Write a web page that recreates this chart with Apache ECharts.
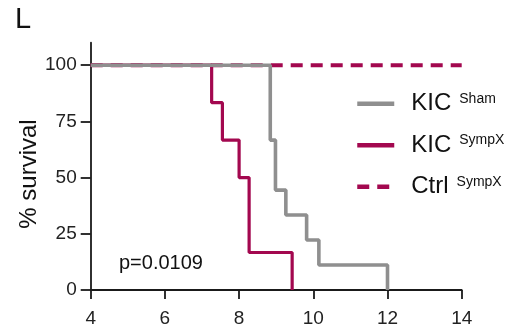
<!DOCTYPE html>
<html><head><meta charset="utf-8">
<script src="https://cdn.jsdelivr.net/npm/echarts@6/dist/echarts.min.js"></script>
<style>html,body{margin:0;padding:0;background:#fff}#c{width:513px;height:328px}</style>
</head><body><div id="c"></div>
<script>
// Kaplan-Meier survival data: [time (weeks), % survival]
const kicSham = [[4,100],[8.84,66.67],[8.98,44.44],[9.26,33.33],[9.82,22.22],[10.15,11.11],[12.0,0]];
const kicSympX = [[4,100],[7.26,83.33],[7.55,66.67],[8.0,50],[8.27,16.67],[9.43,0]];
const ctrlSympX = [[4,100],[14,100]];
const yTicks = [0,25,50,75,100];
const xMin = 4, xMax = 14, xInterval = 2;
const pText = 'p=0.0109';
const panelLabel = 'L';
const yTitle = '% survival';

const grey = '#8f8f8f', red = '#a3084f', axisCol = '#1a1a1a';
const chart = echarts.init(document.getElementById('c'));
const rich = {
  m:{fontFamily:'Liberation Sans',fontSize:24,color:'#111',lineHeight:24,padding:[0,0,0,12]},
  s:{fontFamily:'Liberation Sans',fontSize:14,color:'#111',lineHeight:14,verticalAlign:'top',padding:[0,0,0,8]}
};
chart.setOption({
  animation:false,
  grid:{left:90.7,right:51.3,top:42.7,bottom:38},
  xAxis:{type:'value',min:xMin,max:xMax,interval:xInterval,
    axisLine:{lineStyle:{color:axisCol,width:1.8}},
    axisTick:{length:9,lineStyle:{color:axisCol,width:1.8}},
    axisLabel:{fontFamily:'Liberation Sans',fontSize:19,color:'#222',margin:19},
    splitLine:{show:false}},
  yAxis:{type:'value',min:0,max:110,
    axisLine:{show:true,lineStyle:{color:axisCol,width:1.8}},
    axisTick:{show:true,length:10,customValues:yTicks,lineStyle:{color:axisCol,width:1.8}},
    axisLabel:{customValues:yTicks,fontFamily:'Liberation Sans',fontSize:19,color:'#222',margin:14},
    splitLine:{show:false}},
  legend:{orient:'vertical',left:350,top:86.7,itemWidth:37,itemHeight:14,itemGap:17.5,
    selectedMode:false,data:['KIC Sham','KIC SympX','Ctrl SympX'],
    itemStyle:{opacity:0},
    lineStyle:{width:4.5},
    textStyle:{rich:rich},
    formatter:function(n){const p=n.split(' ');return '{m|'+p[0]+'}{s|'+p[1]+'}';}},
  graphic:[
    {type:'text',left:15,top:5,style:{text:panelLabel,font:'29px "Liberation Sans"',fill:'#111'}},
    {type:'text',x:29,y:174,rotation:Math.PI/2,style:{text:yTitle,font:'24px "Liberation Sans"',fill:'#111',align:'center',verticalAlign:'middle'}},
    {type:'text',x:119,y:263,style:{text:pText,font:'20px "Liberation Sans"',fill:'#111',align:'left',verticalAlign:'middle'}}
  ],
  series:[
    {name:'Ctrl SympX',type:'line',data:ctrlSympX,symbol:'none',z:1,
      lineStyle:{color:red,width:4,type:[12,8]},itemStyle:{color:red}},
    {name:'KIC SympX',type:'line',step:'end',data:kicSympX,symbol:'none',z:2,
      lineStyle:{color:red,width:3.2},itemStyle:{color:red}},
    {name:'KIC Sham',type:'line',step:'end',data:kicSham,symbol:'none',z:3,
      lineStyle:{color:grey,width:3.6},itemStyle:{color:grey}}
  ]
});
</script></body></html>
